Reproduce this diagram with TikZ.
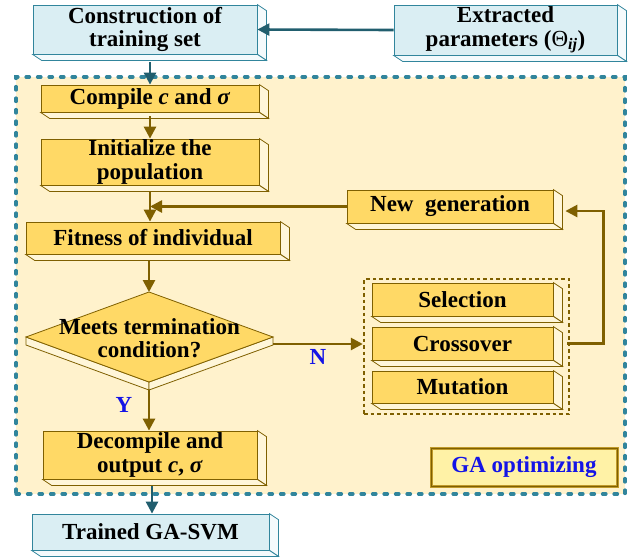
\documentclass[tikz,border=0pt]{standalone}
\usepackage{fontspec}
\setmainfont{Liberation Serif}
\usetikzlibrary{arrows.meta,calc}
\definecolor{tealb}{HTML}{31859C}
\definecolor{tealarr}{HTML}{215E6E}
\definecolor{lblue}{HTML}{DAEEF3}
\definecolor{lbside}{HTML}{F4FAFC}
\definecolor{goldf}{HTML}{FFD966}
\definecolor{goldside}{HTML}{FFF6D9}
\definecolor{dkgold}{HTML}{7F6000}
\definecolor{cream}{HTML}{FFF2CC}
\definecolor{gaf}{HTML}{FFF2A6}
\definecolor{gab}{HTML}{C09A2A}
\definecolor{blu}{HTML}{1414E6}
\newcommand\extr[3]{%
  \filldraw[fill=#2,draw=#3,line width=0.8pt] (#1.north east) -- ++(9,6) -- ($(#1.south east)+(9,6)$) -- (#1.south east) -- cycle;
  \filldraw[fill=#2,draw=#3,line width=0.8pt] (#1.south west) -- (#1.south east) -- ++(9,6) -- ($(#1.south west)+(9,6)$) -- cycle;}
\tikzset{
  txt/.style={font=\fontsize{23}{23.5}\selectfont\bfseries, align=center},
  fbox/.style={txt, draw, line width=0.8pt, inner sep=0pt},
  bluebox/.style={fbox, fill=lblue, draw=tealb},
  goldbox/.style={fbox, fill=goldf, draw=dkgold},
  barrow/.style={draw=dkgold, line width=2.6pt, -{Triangle[length=12pt,width=12pt]}},
  tarrow/.style={draw=tealarr, line width=2.6pt, -{Triangle[length=12pt,width=12pt]}},
  bluelab/.style={txt, text=blu},
}
\begin{document}
\begin{tikzpicture}[x=1pt,y=-1pt]
\useasboundingbox (0,0) rectangle (641,558);
% outer GA region
\node[draw=tealb, fill=cream, line width=3.2pt, dash pattern=on 3.5pt off 8pt, line cap=round,
      minimum width=609pt, minimum height=417pt, inner sep=0pt] (outer) at (320.5,285.5) {};
% top boxes
\node[bluebox, minimum width=224pt, minimum height=49pt] (cons) at (145,29.5) {Construction of\\training set};
\extr{cons}{lbside}{tealb}
\node[bluebox, minimum width=223pt, minimum height=50pt] (ext) at (505.5,30) {Extracted\\parameters ({\mdseries Θ}\textsubscript{\textit{ij}})};
\extr{ext}{lbside}{tealb}
% GA boxes
\node[goldbox, minimum width=218pt, minimum height=27pt] (comp) at (150,98.5) {Compile \textit{c} and \textit{σ}};
\extr{comp}{goldside}{dkgold}
\node[goldbox, minimum width=218pt, minimum height=46pt] (init) at (150,162) {Initialize the\\population};
\extr{init}{goldside}{dkgold}
\node[goldbox, minimum width=206pt, minimum height=33pt] (newg) at (450,206.5) {New~ generation};
\extr{newg}{goldside}{dkgold}
\node[goldbox, minimum width=254pt, minimum height=32pt] (fit) at (153,238) {Fitness of individual};
\extr{fit}{goldside}{dkgold}
% decision diamond
\coordinate (dl) at (26,337);
\coordinate (dt) at (149,292);
\coordinate (dr) at (273,337);
\coordinate (db) at (149,382);
\filldraw[fill=goldside, draw=dkgold, line width=0.8pt] (dl) -- (db) -- ++(0,8) -- ($(dl)+(0,8)$) -- cycle;
\filldraw[fill=goldside, draw=dkgold, line width=0.8pt] (db) -- (dr) -- ++(0,8) -- ($(db)+(0,8)$) -- cycle;
\filldraw[fill=goldf, draw=dkgold, line width=0.8pt] (dl) -- (dt) -- (dr) -- (db) -- cycle;
\node[txt] (dtext) at (149.5,338) {Meets termination\\condition?};
% operator group
\node[draw=dkgold, line width=2.4pt, dash pattern=on 3.5pt off 3pt, minimum width=205pt, minimum height=135pt, inner sep=0pt] (grp) at (466.5,346.5) {};
\node[goldbox, minimum width=181pt, minimum height=33pt] (sel) at (462.5,299.5) {Selection};
\extr{sel}{goldside}{dkgold}
\node[goldbox, minimum width=181pt, minimum height=33pt] (cro) at (462.5,343.5) {Crossover};
\extr{cro}{goldside}{dkgold}
\node[goldbox, minimum width=181pt, minimum height=32pt] (mut) at (462.5,387) {Mutation};
\extr{mut}{goldside}{dkgold}
% output
\node[goldbox, minimum width=214pt, minimum height=48pt] (dec) at (150,455) {Decompile and\\output \textit{c}, \textit{σ}};
\extr{dec}{goldside}{dkgold}
\node[bluebox, minimum width=237pt, minimum height=36pt] (trn) at (150.5,532) {Trained GA-SVM};
\extr{trn}{lbside}{tealb}
% GA optimizing label
\node[txt, text=blu, draw=gab, line width=3pt, fill=gaf, minimum width=186pt, minimum height=38pt, inner sep=0pt] (ga) at (524,467) {GA optimizing};
\draw[dkgold, line width=0.8pt] ($(ga.north west)+(1.5,1.5)$) rectangle ($(ga.south east)+(-1.5,-1.5)$);
% connectors
\draw[tarrow] (ext.west) -- (cons.east);
\draw[tarrow] ($(comp.north |- cons.south)+(0,8)$) -- (comp.north);
\draw[barrow] ($(comp.south)+(0,4)$) -- (init.north);
\draw[barrow] ($(init.south)+(0,7)$) -- (init.south |- fit.north);
\draw[barrow] (newg.west) -- (newg.west -| init.south);
\draw[barrow] ($(dt |- fit.south)+(0,6)$) -- (dt);
\coordinate (dre) at ($(dr)+(0,7)$);
\draw[barrow] (dre) -- (dre -| grp.west);
\draw[barrow] ($(db)+(0,8)$) -- (db |- dec.north);
\draw[barrow] ($(cro.east)+(14,0)$) -- ++(36,0) |- ($(newg.east)+(12,4.5)$);
\draw[tarrow] ($(dec.south)+(2,7)$) -- ($(dec.south |- trn.north)+(2,0)$);
% labels
\node[bluelab] (nlab) at (318,357) {N};
\node[bluelab] (ylab) at (124,405) {Y};
\end{tikzpicture}
\end{document}
